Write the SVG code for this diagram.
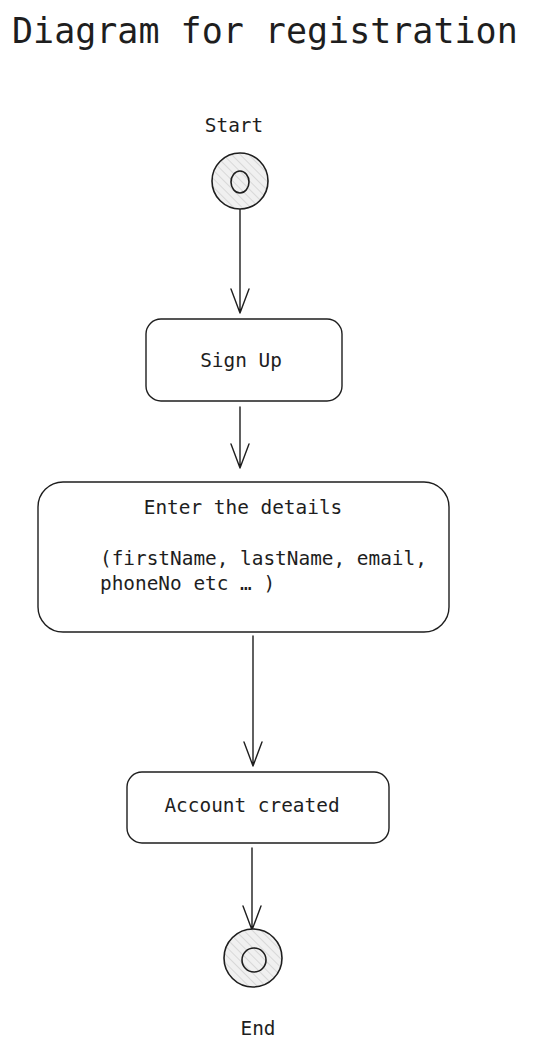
<svg xmlns="http://www.w3.org/2000/svg" width="548" height="1050" viewBox="0 0 548 1050">
<style>
text{font-family:"DejaVu Sans Mono","Liberation Mono",monospace;fill:#1e1e1e}
.lbl{font-size:19.4px}
.box{fill:#fff;stroke:#1e1e1e;stroke-width:1.4}
.edge{fill:none;stroke:#1e1e1e;stroke-width:1.4;stroke-linecap:round;stroke-linejoin:round}
.disc{fill:url(#hatch);stroke:#1e1e1e;stroke-width:1.6}
.inner{fill:none;stroke:#1e1e1e;stroke-width:1.6}
</style>
<defs>
<pattern id="hatch" width="6" height="6" patternUnits="userSpaceOnUse" patternTransform="rotate(-45)">
<rect width="6" height="6" fill="#f0f0f0"/>
<line x1="0" y1="0" x2="0" y2="6" stroke="#d0d0d0" stroke-width="1.5"/>
</pattern>
</defs>
<rect width="548" height="1050" fill="#fff"/>
<text x="12" y="43" style="font-size:35px">Diagram for registration</text>
<g id="connectors">
<path class="edge" d="M240 209 L240 313 M231 289 L240 313 L249 289"/>
<path class="edge" d="M240 407 L240 468 M231 444 L240 468 L249 444"/>
<path class="edge" d="M253 636 L253 766 M244 742 L253 766 L262 742"/>
<path class="edge" d="M252 848 L252 930 M243 906 L252 930 L261 906"/>
</g>
<g id="start">
<text class="lbl" x="234" y="132" text-anchor="middle">Start</text>
<circle class="disc" cx="240" cy="181" r="28"/>
<ellipse class="inner" cx="240" cy="182" rx="9" ry="11"/>
</g>
<g id="signup">
<rect class="box" x="146" y="319" width="196" height="82" rx="15"/>
<text class="lbl" x="241" y="367" text-anchor="middle">Sign Up</text>
</g>
<g id="details">
<rect class="box" x="38" y="482" width="411" height="150" rx="25"/>
<text class="lbl" x="243" y="514" text-anchor="middle">Enter the details</text>
<text class="lbl" x="100" y="565">(firstName, lastName, email,</text>
<text class="lbl" x="100" y="590">phoneNo etc … )</text>
</g>
<g id="account">
<rect class="box" x="127" y="772" width="262" height="71" rx="15"/>
<text class="lbl" x="252" y="812" text-anchor="middle">Account created</text>
</g>
<g id="end">
<circle class="disc" cx="253" cy="958" r="29"/>
<ellipse class="inner" cx="254" cy="960" rx="12" ry="12"/>
<text class="lbl" x="258" y="1035" text-anchor="middle">End</text>
</g>
</svg>
